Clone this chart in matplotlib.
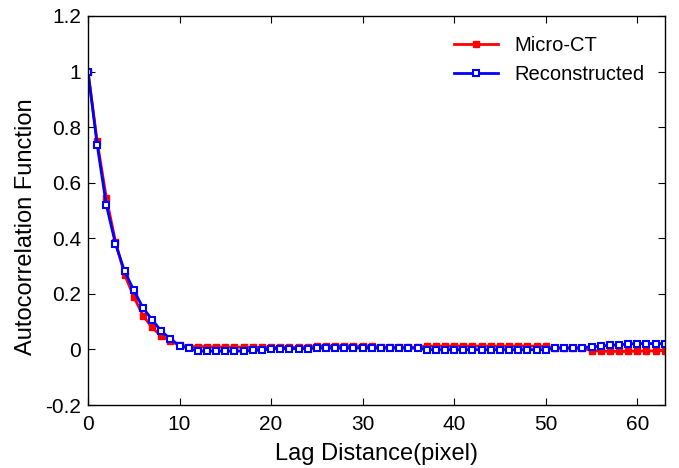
import numpy as np
import matplotlib
matplotlib.use("Agg")
import matplotlib.pyplot as plt

plt.rcParams['font.family'] = ['Liberation Sans', 'DejaVu Sans']

lag = list(range(64))

micro_ct = [1.0, 0.749, 0.546, 0.388, 0.269, 0.19, 0.122, 0.079, 0.048, 0.03,
            0.015, 0.01, 0.01, 0.01, 0.009, 0.008, 0.008, 0.008, 0.007, 0.007,
            0.007, 0.007, 0.007, 0.007, 0.008, 0.012, 0.012, 0.012, 0.012, 0.012,
            0.012, 0.012, 0.008, 0.008, 0.008, 0.008, 0.008, 0.012, 0.012, 0.012,
            0.012, 0.012, 0.012, 0.012, 0.012, 0.012, 0.012, 0.012, 0.012, 0.012,
            0.011, 0.005, 0.005, 0.005, 0.004, -0.004, -0.006, -0.007, -0.007, -0.007,
            -0.006, -0.006, -0.005, -0.004]

reconstructed = [1.0, 0.737, 0.52, 0.38, 0.281, 0.213, 0.15, 0.107, 0.066, 0.038,
                 0.014, 0.004, -0.006, -0.006, -0.006, -0.006, -0.006, -0.006, -0.003, -0.003,
                 0.003, 0.003, 0.003, 0.003, 0.003, 0.005, 0.005, 0.005, 0.005, 0.005,
                 0.005, 0.005, 0.005, 0.005, 0.005, 0.005, 0.004, -0.001, -0.001, -0.001,
                 -0.001, -0.001, -0.001, -0.001, -0.001, -0.001, -0.001, -0.001, -0.001, -0.001,
                 -0.001, 0.005, 0.005, 0.005, 0.006, 0.01, 0.011, 0.016, 0.016, 0.02,
                 0.021, 0.021, 0.021, 0.021]

fig = plt.figure(figsize=(6.79, 4.68), dpi=100)
ax = fig.add_axes([0.1296, 0.1346, 0.8494, 0.8313])

ax.plot(lag, micro_ct, color="red", linewidth=2, marker="s", markersize=5,
        markerfacecolor="red", markeredgecolor="red", label="Micro-CT")
ax.plot(lag, reconstructed, color="blue", linewidth=2, marker="s", markersize=5,
        markerfacecolor="white", markeredgecolor="blue", markeredgewidth=1.5,
        label="Reconstructed")

ax.set_xlim(0, 63)
ax.set_ylim(-0.2, 1.2)
ax.set_xticks([0, 10, 20, 30, 40, 50, 60])
ax.set_yticks([-0.2, 0, 0.2, 0.4, 0.6, 0.8, 1.0, 1.2])
ax.set_yticklabels(["-0.2", "0", "0.2", "0.4", "0.6", "0.8", "1", "1.2"])
ax.tick_params(direction="in", top=True, right=True, labelsize=15, length=5)
ax.tick_params(axis="x", pad=7)
ax.tick_params(axis="y", pad=5)
for s in ax.spines.values():
    s.set_linewidth(1.0)

ax.set_xlabel("Lag Distance(pixel)", fontsize=17, labelpad=7)
ax.set_ylabel("Autocorrelation Function", fontsize=17)
ax.yaxis.set_label_coords(-0.089, 0.459)

ax.legend(loc="upper right", frameon=False, fontsize=14.5, handlelength=2.2,
          borderaxespad=0.6, labelspacing=0.5)

fig.savefig("out.png", dpi=100)
